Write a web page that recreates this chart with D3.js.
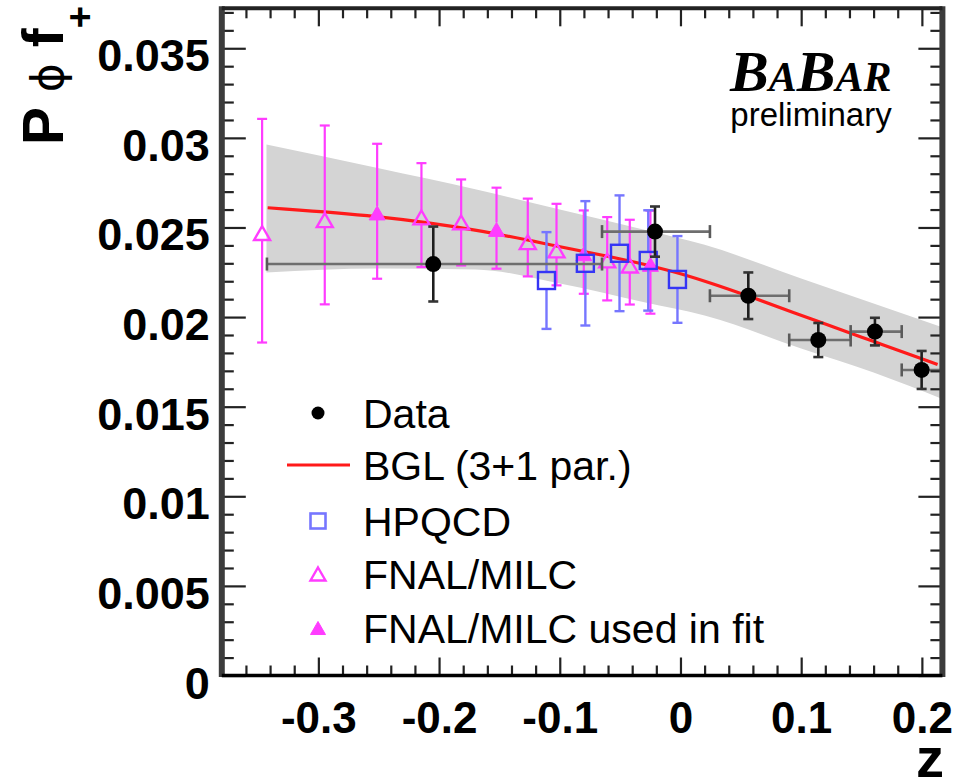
<!DOCTYPE html>
<html><head><meta charset="utf-8">
<script src="https://cdn.jsdelivr.net/npm/d3@7"></script>
<style>body{margin:0;background:#fff;} svg{display:block;}</style>
</head><body>
<svg id="c" width="969" height="781"></svg>
<script>
// ---------------- data ----------------
const xTickValues = [-0.3, -0.2, -0.1, 0, 0.1, 0.2];
const xTickLabels = ["-0.3", "-0.2", "-0.1", "0", "0.1", "0.2"];
const yTickValues = [0, 0.005, 0.01, 0.015, 0.02, 0.025, 0.03, 0.035];
const yTickLabels = ["0", "0.005", "0.01", "0.015", "0.02", "0.025", "0.03", "0.035"];

// BaBar data points (bins in z)
const dataZ    = [-0.2048, -0.0211, 0.0562, 0.1142, 0.1611, 0.1998];
const dataV    = [0.02296, 0.02477, 0.02119, 0.01872, 0.01919, 0.01705];
const dataErr  = [0.00209, 0.00140, 0.00130, 0.00095, 0.00077, 0.00106];
const dataZLo  = [-0.3426, -0.0650, 0.0244, 0.0901, 0.1410, 0.1833];
const dataZHi  = [-0.0650, 0.0244, 0.0901, 0.1410, 0.1833, 0.2165];

// BGL fit curve
const fitZ = [-0.342, -0.251, -0.166, -0.099, -0.055, -0.008, 0.019, 0.057, 0.115, 0.162, 0.213];
const fitV = [0.02610, 0.02567, 0.02487, 0.02390, 0.02334, 0.02260, 0.02204, 0.02117, 0.01972, 0.01860, 0.01735];

// fit uncertainty band
const bandZ  = [-0.343, -0.25, -0.17, -0.10, -0.03, 0.02, 0.10, 0.16, 0.22];
const bandHi = [0.02963, 0.02830, 0.02713, 0.02600, 0.02487, 0.02403, 0.02215, 0.02076, 0.01936];
const bandLo = [0.02249, 0.02271, 0.02266, 0.02188, 0.02083, 0.02009, 0.01825, 0.01691, 0.01535];

// FNAL/MILC lattice points
const fnalZ  = [-0.3466, -0.2947, -0.2513, -0.2146, -0.1817, -0.1524, -0.1265, -0.1027, -0.0801, -0.0607, -0.0420, -0.0249];
const fnalV  = [0.02469, 0.02541, 0.02581, 0.02556, 0.02528, 0.02489, 0.02418, 0.02372, 0.02353, 0.02316, 0.02288, 0.02294];
const fnalUp = [0.00637, 0.00528, 0.00386, 0.00303, 0.00240, 0.00233, 0.00243, 0.00260, 0.00242, 0.00242, 0.00255, 0.00300];
const fnalDn = [0.00611, 0.00470, 0.00367, 0.00277, 0.00240, 0.00219, 0.00191, 0.00195, 0.00223, 0.00223, 0.00218, 0.00275];
const fnalUsed = [false, false, true, false, false, true, false, false, true, false, false, true];

// HPQCD lattice points
const hpZ   = [-0.1110, -0.0788, -0.0505, -0.0267, -0.0025];
const hpV   = [0.02204, 0.02300, 0.02356, 0.02316, 0.02210];
const hpErr = [0.00270, 0.00347, 0.00323, 0.00280, 0.00242];

const legendLabels = ["Data", "BGL (3+1 par.)", "HPQCD", "FNAL/MILC", "FNAL/MILC used in fit"];

// ---------------- drawing ----------------
const svg = d3.select("#c");
const L = 221.8, R = 942.4, T = 8.3, B = 675.5;
const x = d3.scaleLinear().domain([-0.38, 0.217]).range([L, R]);
const y = d3.scaleLinear().domain([0, 0.03723]).range([B, T]);

const MAG = "#ff3cff", BLUE = "#3535f5", BLUE_E = "#7676ff";
const sansB = "'Liberation Sans', Arial, Helvetica, sans-serif";

svg.append("defs").append("clipPath").attr("id", "fr")
  .append("rect").attr("x", L).attr("y", T).attr("width", R - L).attr("height", B - T);

const plot = svg.append("g").attr("clip-path", "url(#fr)");

// band
const bandData = bandZ.map((z, i) => ({z, lo: bandLo[i], hi: bandHi[i]}));
plot.append("path").datum(bandData)
  .attr("d", d3.area().x(d => x(d.z)).y0(d => y(d.lo)).y1(d => y(d.hi)).curve(d3.curveMonotoneX))
  .attr("fill", "#d4d4d4");

// fit curve
const fitData = fitZ.map((z, i) => ({z, v: fitV[i]}));
plot.append("path").datum(fitData)
  .attr("d", d3.line().x(d => x(d.z)).y(d => y(d.v)).curve(d3.curveBasis))
  .attr("fill", "none").attr("stroke", "#ff1a1a").attr("stroke-width", 3.2);

function triPath(cx, cy, s) {
  const h = s * 0.87;
  return `M${cx},${cy - h / 2}L${cx + s / 2},${cy + h / 2}L${cx - s / 2},${cy + h / 2}Z`;
}
function seg(g, x1, y1, x2, y2, color, w) {
  g.append("line").attr("x1", x1).attr("y1", y1).attr("x2", x2).attr("y2", y2)
    .attr("stroke", color).attr("stroke-width", w);
}

// FNAL/MILC
const gF = svg.append("g");
fnalZ.forEach((z, i) => {
  const cx = x(z), cy = y(fnalV[i]);
  const top = y(fnalV[i] + fnalUp[i]), bot = y(fnalV[i] - fnalDn[i]);
  const half = 7;
  seg(gF, cx, top, cx, cy - half, MAG, 2.2);
  seg(gF, cx, cy + half, cx, bot, MAG, 2.2);
  seg(gF, cx - 5, top, cx + 5, top, MAG, 2.2);
  seg(gF, cx - 5, bot, cx + 5, bot, MAG, 2.2);
  gF.append("path").attr("d", triPath(cx, cy, 16))
    .attr("fill", fnalUsed[i] ? MAG : "none")
    .attr("stroke", MAG).attr("stroke-width", fnalUsed[i] ? 1 : 2.4);
});

// HPQCD
const gH = svg.append("g");
hpZ.forEach((z, i) => {
  const cx = x(z), cy = y(hpV[i]);
  const top = y(hpV[i] + hpErr[i]), bot = y(hpV[i] - hpErr[i]);
  const half = 8.5;
  seg(gH, cx, top, cx, cy - half, BLUE_E, 2.4);
  seg(gH, cx, cy + half, cx, bot, BLUE_E, 2.4);
  seg(gH, cx - 5, top, cx + 5, top, BLUE_E, 2.4);
  seg(gH, cx - 5, bot, cx + 5, bot, BLUE_E, 2.4);
  gH.append("rect").attr("x", cx - half).attr("y", cy - half).attr("width", 2 * half).attr("height", 2 * half)
    .attr("fill", "none").attr("stroke", BLUE).attr("stroke-width", 2.4);
});

// Data
const gD = svg.append("g");
dataZ.forEach((z, i) => {
  const cx = x(z), cy = y(dataV[i]);
  const x0 = x(dataZLo[i]), x1 = Math.min(x(dataZHi[i]), R);
  seg(gD, x0, cy, x1, cy, "#6e6e6e", 2.6);
  seg(gD, x0, cy - 6.5, x0, cy + 6.5, "#5a5a5a", 2.6);
  if (x(dataZHi[i]) < R - 1) seg(gD, x1, cy - 6.5, x1, cy + 6.5, "#5a5a5a", 2.6);
  const top = y(dataV[i] + dataErr[i]), bot = y(dataV[i] - dataErr[i]);
  seg(gD, cx, top, cx, bot, "#1e1e1e", 2.6);
  seg(gD, cx - 5, top, cx + 5, top, "#333", 2.6);
  seg(gD, cx - 5, bot, cx + 5, bot, "#333", 2.6);
  gD.append("circle").attr("cx", cx).attr("cy", cy).attr("r", 8).attr("fill", "#000");
});

// ---------------- axes ----------------
const minorX = d3.range(-0.38, 0.2175, 0.02).map(v => +v.toFixed(3)).filter(v => v >= -0.38 && v <= 0.217 && !xTickValues.some(t => Math.abs(t - v) < 1e-6));
const minorY = d3.range(0, 0.0372, 0.001).map(v => +v.toFixed(4)).filter(v => !yTickValues.some(t => Math.abs(t - v) < 1e-7));

function styleAxis(g) {
  g.select(".domain").remove();
  g.selectAll(".tick line").attr("stroke", "#222").attr("stroke-width", 2.2);
}

// bottom
svg.append("g").attr("transform", `translate(0,${B})`)
  .call(d3.axisBottom(x).tickValues(minorX).tickSize(-10).tickFormat("")).call(styleAxis);
const xAx = svg.append("g").attr("transform", `translate(0,${B})`)
  .call(d3.axisBottom(x).tickValues(xTickValues).tickSize(-18).tickPadding(26)
    .tickFormat((d, i) => xTickLabels[i])).call(styleAxis);
xAx.selectAll("text").attr("font-family", sansB).attr("font-weight", "bold").attr("font-size", 44).attr("fill", "#000");

// top
svg.append("g").attr("transform", `translate(0,${T})`)
  .call(d3.axisTop(x).tickValues(minorX).tickSize(-10).tickFormat("")).call(styleAxis);
svg.append("g").attr("transform", `translate(0,${T})`)
  .call(d3.axisTop(x).tickValues(xTickValues).tickSize(-18).tickFormat("")).call(styleAxis);

// left
svg.append("g").attr("transform", `translate(${L},0)`)
  .call(d3.axisLeft(y).tickValues(minorY).tickSize(-12).tickFormat("")).call(styleAxis);
const yAx = svg.append("g").attr("transform", `translate(${L},0)`)
  .call(d3.axisLeft(y).tickValues(yTickValues).tickSize(-24).tickPadding(12)
    .tickFormat((d, i) => yTickLabels[i])).call(styleAxis);
yAx.selectAll("text").attr("font-family", sansB).attr("font-weight", "bold").attr("font-size", 45)
  .attr("fill", "#000").attr("dy", "0.5em");

// right
svg.append("g").attr("transform", `translate(${R},0)`)
  .call(d3.axisRight(y).tickValues(minorY).tickSize(-12).tickFormat("")).call(styleAxis);
svg.append("g").attr("transform", `translate(${R},0)`)
  .call(d3.axisRight(y).tickValues(yTickValues).tickSize(-24).tickFormat("")).call(styleAxis);

// frame
seg(svg, L, T - 2, L, B + 1.5, "#3c3c3c", 6);
seg(svg, R, T - 2, R, B + 1.5, "#3c3c3c", 6);
seg(svg, L, T, R, T, "#222", 4);
seg(svg, L, B, R, B, "#000", 3.5);

// axis titles
svg.append("text").attr("x", 944).attr("y", 777).attr("text-anchor", "end")
  .attr("font-family", sansB).attr("font-weight", "bold").attr("font-size", 56).text("z");

const yt = svg.append("text").attr("transform", "translate(63,145) rotate(-90)")
  .attr("font-family", sansB).attr("font-weight", "bold").attr("font-size", 57).attr("fill", "#000");
yt.append("tspan").text("P ");
yt.append("tspan").attr("font-family", "'DejaVu Sans', sans-serif").attr("font-weight", "normal").attr("font-size", 44).text("\u03D5");
yt.append("tspan").text(" f");
yt.append("tspan").attr("font-size", 38).attr("dy", 30).text("+");

// BaBar logo
const bb = svg.append("text").attr("x", 730).attr("y", 91)
  .attr("font-family", "'Liberation Serif', 'Times New Roman', serif").attr("font-style", "italic").attr("font-weight", "bold");
bb.append("tspan").attr("font-size", 58).text("B");
bb.append("tspan").attr("font-size", 42).text("A");
bb.append("tspan").attr("font-size", 58).text("B");
bb.append("tspan").attr("font-size", 42).text("AR");
svg.append("text").attr("x", 811).attr("y", 126).attr("text-anchor", "middle")
  .attr("font-family", sansB).attr("font-size", 33).text("preliminary");

// legend
const legRows = [413, 465, 521, 574, 628];
const lg = svg.append("g");
legendLabels.forEach((t, i) => {
  lg.append("text").attr("x", 363).attr("y", legRows[i] + 14.5)
    .attr("font-family", sansB).attr("font-size", 41).attr("fill", "#000").text(t);
});
lg.append("circle").attr("cx", 318).attr("cy", legRows[0]).attr("r", 6.5).attr("fill", "#000");
seg(lg, 287, legRows[1], 350, legRows[1], "#ff1a1a", 3.2);
lg.append("rect").attr("x", 318 - 7.5).attr("y", legRows[2] - 7.5).attr("width", 15).attr("height", 15)
  .attr("fill", "none").attr("stroke", BLUE_E).attr("stroke-width", 2.6);
lg.append("path").attr("d", triPath(318, legRows[3], 15)).attr("fill", "none").attr("stroke", MAG).attr("stroke-width", 2.4);
lg.append("path").attr("d", triPath(318, legRows[4], 15)).attr("fill", MAG).attr("stroke", MAG).attr("stroke-width", 1);
</script>
</body></html>
